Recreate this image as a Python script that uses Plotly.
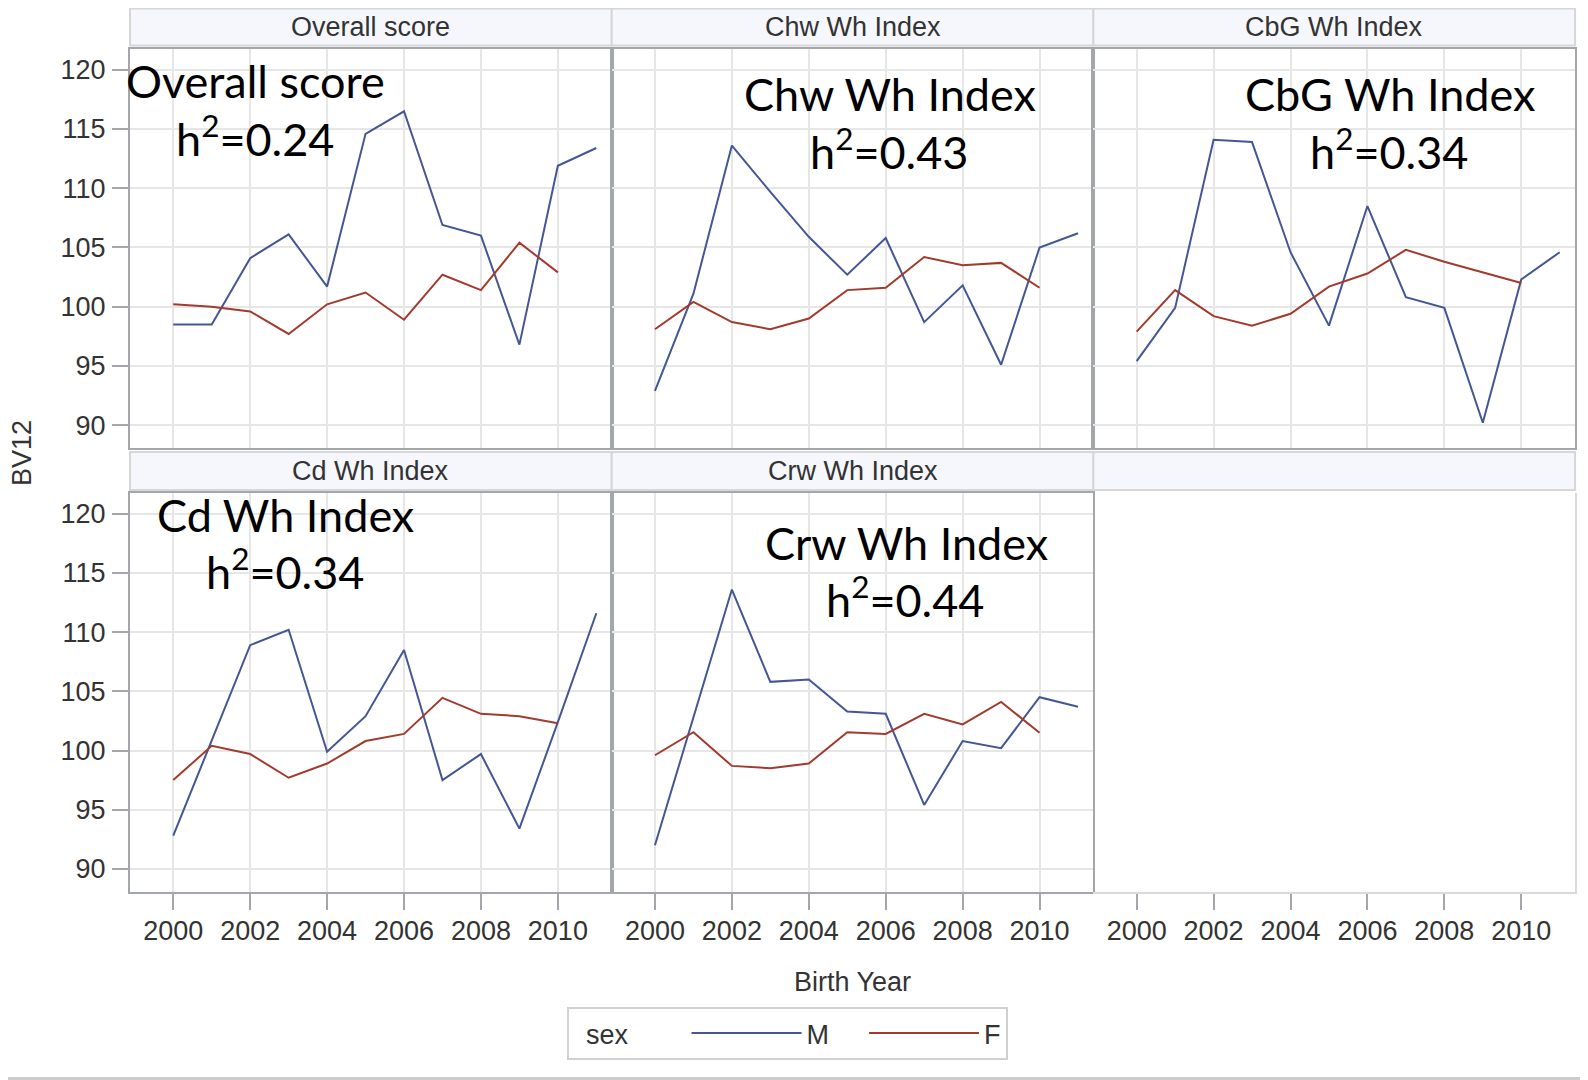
import plotly.graph_objects as go

# ---------------- data ----------------
years_m = [2000, 2001, 2002, 2003, 2004, 2005, 2006, 2007, 2008, 2009, 2010, 2011]
years_f = [2000, 2001, 2002, 2003, 2004, 2005, 2006, 2007, 2008, 2009, 2010]

panels = ["Overall score", "Chw Wh Index", "CbG Wh Index", "Cd Wh Index", "Crw Wh Index"]
h2_values = ["0.24", "0.43", "0.34", "0.34", "0.44"]

overall_m = [98.5, 98.5, 104.1, 106.1, 101.7, 114.6, 116.5, 106.9, 106.0, 96.8, 111.9, 113.4]
overall_f = [100.2, 100.0, 99.6, 97.7, 100.2, 101.2, 98.9, 102.7, 101.4, 105.4, 102.9]
chw_m = [92.9, 101.1, 113.6, 109.7, 105.9, 102.7, 105.8, 98.7, 101.8, 95.1, 105.0, 106.2]
chw_f = [98.1, 100.4, 98.7, 98.1, 99.0, 101.4, 101.6, 104.2, 103.5, 103.7, 101.6]
cbg_m = [95.4, 99.9, 114.1, 113.9, 104.6, 98.4, 108.5, 100.8, 99.9, 90.2, 102.3, 104.6]
cbg_f = [97.9, 101.4, 99.2, 98.4, 99.4, 101.7, 102.8, 104.8, 103.8, 102.9, 102.0]
cd_m = [92.8, 100.9, 108.9, 110.2, 99.9, 102.9, 108.5, 97.5, 99.7, 93.4, 102.4, 111.6]
cd_f = [97.5, 100.4, 99.7, 97.7, 98.9, 100.8, 101.4, 104.45, 103.1, 102.9, 102.3]
crw_m = [92.0, 102.8, 113.6, 105.8, 106.0, 103.3, 103.1, 95.4, 100.8, 100.2, 104.5, 103.7]
crw_f = [99.6, 101.55, 98.7, 98.5, 98.9, 101.55, 101.4, 103.1, 102.2, 104.1, 101.5]

male_series = [overall_m, chw_m, cbg_m, cd_m, crw_m]
female_series = [overall_f, chw_f, cbg_f, cd_f, crw_f]

x_ticks = [2000, 2002, 2004, 2006, 2008, 2010]
y_ticks = [90, 95, 100, 105, 110, 115, 120]

# ---------------- style ----------------
OFF = 8                      # page body margin of the browser
W, H = 1588 - OFF, 1080 - OFF
M_COLOR = "#445694"
F_COLOR = "#A23A2E"
FRAME = "#A3A7AB"
LIGHT_FRAME = "#DADADA"
GRID = "#E6E6E6"
HEAD_FILL = "#F5F7FD"
HEAD_LINE = "#D6D6D6"
TXT = "#333333"
BASE_FONT = "Liberation Sans, Arial, sans-serif"
BIG_FONT = "Lato, Noto Sans, sans-serif"
NBSP = "\u00a0"

X_RANGE = [1998.875, 2011.4]
Y_RANGE = [88.07, 121.8]

col_px = [(130.0, 611.7), (611.7, 1093.4), (1093.4, 1575.1)]
row_plot_px = [(48.5, 448.0), (492.5, 891.7)]
row_head_px = [(8.5, 45.5), (452.0, 490.0)]


def px_x(v):
    return (v - OFF) / W


def px_y(v):
    return 1 - (v - OFF) / H


fig = go.Figure()

for i, name in enumerate(panels):
    sfx = "" if i == 0 else str(i + 1)
    fig.add_trace(go.Scatter(x=years_m, y=male_series[i], mode="lines", name="M" + NBSP * 4,
                             legendgroup="M", showlegend=(i == 0),
                             line=dict(color=M_COLOR, width=2),
                             xaxis="x" + sfx, yaxis="y" + sfx))
    fig.add_trace(go.Scatter(x=years_f, y=female_series[i], mode="lines", name="F",
                             legendgroup="F", showlegend=(i == 0),
                             line=dict(color=F_COLOR, width=2),
                             xaxis="x" + sfx, yaxis="y" + sfx))

# empty sixth cell (keeps its axes)
fig.add_trace(go.Scatter(x=[], y=[], mode="lines", showlegend=False, hoverinfo="skip",
                         xaxis="x6", yaxis="y6"))

layout_axes = {}
for k in range(6):
    r, c = divmod(k, 3)
    sfx = "" if k == 0 else str(k + 1)
    x0, x1 = col_px[c]
    yt, yb = row_plot_px[r]
    bottom_row = (r == 1)
    left_col = (c == 0)
    empty = (k == 5)
    xa = dict(
        domain=[px_x(x0), px_x(x1)], anchor="y" + sfx, range=X_RANGE,
        tickvals=x_ticks, showgrid=not empty, gridcolor=GRID, gridwidth=2,
        showline=True, mirror=(not empty), linecolor=(LIGHT_FRAME if empty else FRAME),
        linewidth=2, zeroline=False,
        ticks="outside" if bottom_row else "", ticklen=16, tickwidth=2, tickcolor=FRAME,
        showticklabels=bottom_row, ticklabelstandoff=-2,
        tickfont=dict(family=BASE_FONT, size=27, color=TXT),
        fixedrange=True,
    )
    ya = dict(
        domain=[px_y(yb), px_y(yt)], anchor="x" + sfx, range=Y_RANGE,
        tickvals=y_ticks, showgrid=not empty, gridcolor=GRID, gridwidth=2,
        showline=True, mirror=(not empty), linecolor=(LIGHT_FRAME if empty else FRAME),
        linewidth=2, zeroline=False,
        ticks="outside" if left_col else "", ticklen=16, tickwidth=2, tickcolor=FRAME,
        showticklabels=left_col, ticklabelstandoff=1,
        tickfont=dict(family=BASE_FONT, size=27, color=TXT),
        fixedrange=True,
    )
    if empty:
        ya["side"] = "right"
    layout_axes["xaxis" + sfx] = xa
    layout_axes["yaxis" + sfx] = ya

shapes = []
annotations = []

# panel header strips
for k in range(6):
    r, c = divmod(k, 3)
    x0, x1 = col_px[c]
    h0, h1 = row_head_px[r]
    shapes.append(dict(type="rect", xref="paper", yref="paper",
                       x0=px_x(x0), x1=px_x(x1), y0=px_y(h1), y1=px_y(h0),
                       fillcolor=HEAD_FILL, line=dict(color=HEAD_LINE, width=2), layer="below"))
    if k < len(panels):
        annotations.append(dict(text=panels[k], xref="paper", yref="paper",
                                x=px_x((x0 + x1) / 2), y=px_y((h0 + h1) / 2),
                                xanchor="center", yanchor="middle", showarrow=False,
                                font=dict(family=BASE_FONT, size=27, color=TXT)))

# big in-panel labels (centre px of each line)
big_pos = [((255, 81), (255, 135.5)),
           ((890, 94.5), (889, 149)),
           ((1390, 94.5), (1389, 149)),
           ((285, 514.5), (285, 569)),
           ((906, 542.5), (905, 597))]
for k, name in enumerate(panels):
    (ax1, ay1), (ax2, ay2) = big_pos[k]
    annotations.append(dict(text=name, xref="paper", yref="paper",
                            x=px_x(ax1), y=px_y(ay1), xanchor="center", yanchor="middle",
                            showarrow=False, font=dict(family=BIG_FONT, size=45, color="black")))
    annotations.append(dict(text="h<sup>2</sup>=" + h2_values[k], xref="paper", yref="paper",
                            x=px_x(ax2), y=px_y(ay2), xanchor="center", yanchor="middle",
                            showarrow=False, font=dict(family=BIG_FONT, size=45, color="black")))

# axis titles
annotations.append(dict(text="Birth Year", xref="paper", yref="paper",
                        x=px_x(853), y=px_y(982), xanchor="center", yanchor="middle",
                        showarrow=False, font=dict(family=BASE_FONT, size=27, color=TXT)))
annotations.append(dict(text="BV12", xref="paper", yref="paper", textangle=-90,
                        x=px_x(22), y=px_y(453), xanchor="center", yanchor="middle",
                        showarrow=False, font=dict(family=BASE_FONT, size=27, color=TXT)))

# bottom border line of the graphic
shapes.append(dict(type="line", xref="paper", yref="paper", x0=0, x1=1,
                   y0=px_y(1078.5), y1=px_y(1078.5), line=dict(color="#CCCCCC", width=3)))

fig.update_layout(
    width=W, height=H, autosize=False,
    margin=dict(l=0, r=0, t=0, b=0),
    paper_bgcolor="white", plot_bgcolor="white",
    font=dict(family=BASE_FONT, size=27, color=TXT),
    showlegend=True,
    legend=dict(orientation="h", x=px_x(567), xanchor="left", y=px_y(1033.5), yanchor="middle",
                bordercolor="#D0D0D0", borderwidth=2, bgcolor="white",
                font=dict(family=BASE_FONT, size=27, color=TXT),
                title=dict(text=NBSP * 2 + "sex" + NBSP * 7, side="left",
                           font=dict(family=BASE_FONT, size=27, color=TXT)),
                itemwidth=110),
    shapes=shapes, annotations=annotations,
    **layout_axes,
)

fig.write_html("out.html")
